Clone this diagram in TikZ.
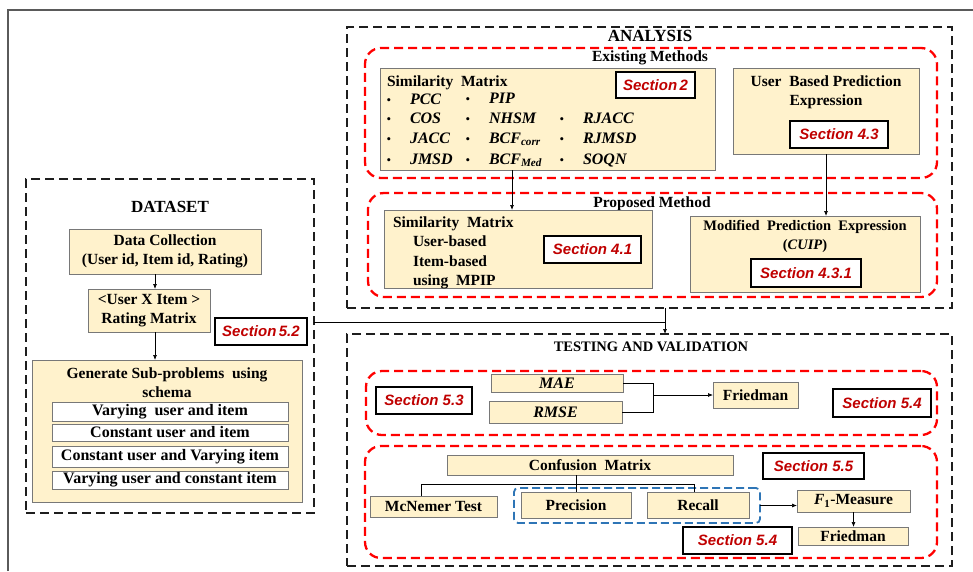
\documentclass[tikz,border=0pt]{standalone}
\usepackage{fontspec}
\setmainfont{Liberation Serif}
\newfontfamily\secfont{Liberation Sans}
\usetikzlibrary{arrows.meta}
\definecolor{boxfill}{RGB}{255,242,204}
\definecolor{boxline}{RGB}{120,120,120}
\definecolor{secred}{RGB}{192,0,0}
\definecolor{dashred}{RGB}{255,0,0}
\definecolor{dashblue}{RGB}{46,117,182}
\definecolor{frameline}{RGB}{90,90,90}
\definecolor{dashblack}{RGB}{30,30,30}
\newcommand{\fsz}[1]{\fontsize{#1}{19}\selectfont}

\begin{document}
\begin{tikzpicture}[x=1pt,y=-1pt,
  every node/.style={inner sep=0pt, outer sep=0pt},
  % a rectangle given by its left, top, right and bottom edges
  place/.style args={#1,#2,#3,#4}{minimum width={(#3)-(#1)}, minimum height={(#4)-(#2)},
     at={({((#1)+(#3))/2},{((#2)+(#4))/2})}},
  beige/.style={draw=boxline, fill=boxfill, line width=0.8pt, font=\bfseries\fsz{15.5}, align=center},
  rowbox/.style={draw=boxline, fill=white, line width=0.8pt, font=\bfseries\fsz{16}, align=center},
  secbox/.style={draw=black, fill=white, line width=1.8pt, text=secred, font=\secfont\bfseries\itshape\fsz{15}},
  reddash/.style={draw=dashred, line width=2.3pt, dash pattern=on 9pt off 5pt, rounded corners=16pt},
  blkdash/.style={draw=dashblack, line width=1.3pt, dash pattern=on 9pt off 5pt},
  bluedash/.style={draw=dashblue, line width=1.8pt, dash pattern=on 8pt off 4pt, rounded corners=4pt},
  ttl/.style={font=\bfseries\fsz{17}},
  subttl/.style={font=\bfseries\fsz{15.5}, align=center},
  itm/.style={font=\bfseries\itshape\fsz{16}, anchor=base west},
  lft/.style={font=\bfseries\fsz{15.5}, anchor=base west},
  bul/.style={font=\fsz{13}, anchor=base},
  arr/.style={-{Latex[length=5pt,width=4pt]}, line width=0.7pt},
  link/.style={line width=0.7pt},
]
\useasboundingbox (0,0) rectangle (973,571);

% page frame
\draw[frameline, line width=1.2pt] (8,571) -- (8,10) -- (973,10);

% ---------------- DATASET ----------------
\node[blkdash, place={26,179,314,513}] (ds) {};
\node[ttl] (dst) at (170,207) {DATASET};
\node[beige, place={69,229,261,274}] (dc) {Data Collection\\(User id, Item id, Rating)};
\node[beige, place={88,289,210,332}] (rm) {<User X Item >\\Rating Matrix};
\node[secbox, place={215,318,307,345}] (s52) {Section\,5.2};
\node[beige, place={32,360,302,502}] (gen) {};
\node[subttl] (gent) at (167,383) {Generate Sub-problems\ \ using\\schema};
\node[rowbox, place={52,402,288,421}] (r1) {Varying\ \ user and item};
\node[rowbox, place={52,424,288,441}] (r2) {Constant user and item};
\node[rowbox, place={52,446,288,467}] (r3) {Constant user and Varying item};
\node[rowbox, place={52,471,288,489}] (r4) {Varying user and constant item};

\coordinate (dx) at (155,0);
\draw[arr] (dx |- dc.south) -- (dx |- rm.north);
\draw[arr] (dx |- rm.south) -- (dx |- gen.north);

% ---------------- ANALYSIS ----------------
\node[blkdash, place={347,27,952,308}] (an) {};
\node[ttl] (ant) at (650,36) {ANALYSIS};

\node[reddash, place={365,48,937,178}] (exm) {};
\node[subttl] (exmt) at (650,58) {Existing Methods};

\node[beige, place={380,68,715,170}] (simE) {};
\node[lft] (simEt) at (387,86) {Similarity\ \ Matrix};
\foreach \y in {104,123,143,164} \node[bul] at (389,\y) {\textbullet};
\foreach \y in {103,123,143,164} \node[bul] at (468,\y) {\textbullet};
\foreach \y in {123,143,164} \node[bul] at (562,\y) {\textbullet};
\node[itm] (m1) at (410,104) {PCC};
\node[itm] (m2) at (410,123) {COS};
\node[itm] (m3) at (410,143) {JACC};
\node[itm] (m4) at (410,164) {JMSD};
\node[itm] (m5) at (489,103) {PIP};
\node[itm] (m6) at (489,123) {NHSM};
\node[itm] (m7) at (489,143) {BCF\textsubscript{corr}};
\node[itm] (m8) at (489,164) {BCF\textsubscript{Med}};
\node[itm] (m9) at (583,123) {RJACC};
\node[itm] (m10) at (583,143) {RJMSD};
\node[itm] (m11) at (583,164) {SOQN};
\node[secbox, place={616,72,695,98}] (s2) {Section\,2};

\node[beige, place={733,68,919,154}] (ub) {};
\node[subttl] (ubt) at (826,92) {User\ \ Based Prediction\\Expression};
\node[secbox, place={790,121,888,148}] (s43) {Section 4.3};

\node[reddash, place={368,193,937,297}] (prm) {};
\node[subttl] (prmt) at (652,204) {Proposed Method};

\node[beige, place={384,210,652,288}] (simP) {};
\node[lft] (sp1) at (393,227) {Similarity\ \ Matrix};
\node[lft] (sp2) at (413,246) {User-based};
\node[lft] (sp3) at (413,266) {Item-based};
\node[lft] (sp4) at (413,285) {using\ \ MPIP};
\node[secbox, place={544,236,641,263}] (s41) {Section 4.1};

\node[beige, place={690,216,920,292}] (mod) {};
\node[subttl, font=\bfseries\fsz{14.5}] (modt) at (805,236.5) {Modified\ \ Prediction\ \ Expression\\(\textit{CUIP})};
\node[secbox, place={751,259,861,287}] (s431) {Section 4.3.1};

\coordinate (ax) at (512,0);
\draw[arr] (ax |- simE.south) -- (ax |- simP.north);
\draw[arr] (ub.south) -- (ub.south |- mod.north);

% ---------------- TESTING AND VALIDATION ----------------
\node[blkdash, place={347,334,952,566}] (tv) {};
\node[subttl, font=\bfseries\fsz{14.5}] (tvt) at (651,347) {TESTING AND VALIDATION};

\coordinate (jx) at (665,322);
\draw[link] (ds.east |- jx) -- (jx);
\draw[arr] (jx |- an.south) -- (jx |- tv.north);

\node[reddash, place={366,371,937,435}] (errb) {};
\node[secbox, place={376,387,472,414}] (s53) {Section 5.3};
\node[beige, place={491,374,623,392}, font=\bfseries\itshape\fsz{16}] (mae) {MAE};
\node[beige, place={489,401,622,423}, font=\bfseries\itshape\fsz{16}] (rmse) {RMSE};
\node[beige, place={713,382,798,408}] (fr1) {Friedman};
\node[secbox, place={833,389,931,417}] (s54a) {Section 5.4};
\coordinate (bx) at (653,0);
\draw[link] (mae.east) -- (bx |- mae.east) -- (bx |- rmse.east) -- (rmse.east);
\draw[arr] (bx |- fr1.west) -- (fr1.west);

\node[reddash, place={365,446,937,558}] (clsb) {};
\node[bluedash, place={514,488,760,523}] (pr) {};
\node[beige, place={447,455,733,475}] (cm) {Confusion\ \ Matrix};
\node[secbox, place={763,453,864,479}] (s55) {Section 5.5};
\node[beige, place={370,496,497,517}] (mc) {McNemer Test};
\node[beige, place={521,492,631,518}] (prec) {Precision};
\node[beige, place={647,492,749,518}] (rec) {Recall};
\node[beige, place={797,490,910,512}] (f1) {\textit{F}\textsubscript{1}-Measure};
\node[beige, place={798,527,908,545}] (fr2) {Friedman};
\node[secbox, place={683,527,792,554}] (s54b) {Section 5.4};

\coordinate (cl) at (421,484);
\coordinate (cr) at (694,484);
\draw[link] (prec.north |- cm.south) -- (prec.north);
\draw[link] (cl |- mc.north) -- (cl) -- (cr) -- (cr |- rec.north);
\draw[arr] (pr.east) -- (pr.east -| f1.west);
\draw[arr] (f1.south) -- (f1.south |- fr2.north);
\end{tikzpicture}
\end{document}
